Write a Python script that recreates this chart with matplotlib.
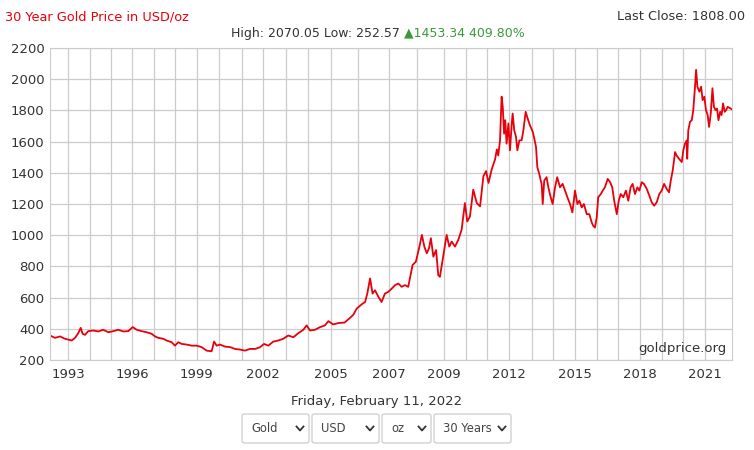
import numpy as np
import matplotlib
matplotlib.use("Agg")
import matplotlib.pyplot as plt
from matplotlib.patches import FancyBboxPatch
from matplotlib.lines import Line2D

# gold price readings (decimal year, USD/oz)
years = [1992.11, 1992.35, 1992.6, 1992.84, 1993.16, 1993.31, 1993.46, 1993.57, 1993.66, 1993.77,
         1993.92, 1994.16, 1994.4, 1994.63, 1994.87, 1995.11, 1995.34, 1995.58, 1995.81, 1996.02,
         1996.2, 1996.43, 1996.66, 1996.89, 1997.05, 1997.2, 1997.44, 1997.6, 1997.84, 1998.0,
         1998.15, 1998.31, 1998.54, 1998.77, 1999.0, 1999.22, 1999.44, 1999.66, 1999.77, 1999.88,
         2000.03, 2000.25, 2000.5, 2000.7, 2000.92, 2001.15, 2001.38, 2001.62, 2001.85, 2002.03,
         2002.22, 2002.44, 2002.66, 2002.88, 2003.1, 2003.34, 2003.57, 2003.8, 2003.95, 2004.1,
         2004.32, 2004.54, 2004.75, 2004.9, 2005.09, 2005.28, 2005.5, 2005.7, 2005.82, 2005.94,
         2006.11, 2006.22, 2006.29, 2006.38, 2006.46, 2006.54, 2006.65, 2006.75, 2006.86, 2006.97,
         2007.09, 2007.21, 2007.33, 2007.45, 2007.57, 2007.69, 2007.85, 2007.97, 2008.1, 2008.19,
         2008.28, 2008.37, 2008.45, 2008.52, 2008.61, 2008.71, 2008.79, 2008.85, 2008.97, 2009.12,
         2009.24, 2009.35, 2009.5, 2009.65, 2009.8, 2009.95, 2010.06, 2010.19, 2010.35, 2010.52,
         2010.68, 2010.84, 2010.97, 2011.08, 2011.22, 2011.37, 2011.45, 2011.51, 2011.59, 2011.66,
         2011.71, 2011.77, 2011.82, 2011.88, 2011.96, 2012.03, 2012.11, 2012.15, 2012.22, 2012.3,
         2012.36, 2012.45, 2012.55, 2012.63, 2012.73, 2012.82, 2012.92, 2013.05, 2013.12, 2013.2,
         2013.26, 2013.35, 2013.42, 2013.46, 2013.51, 2013.58, 2013.69, 2013.77, 2013.88, 2013.97,
         2014.08, 2014.18, 2014.31, 2014.43, 2014.54, 2014.65, 2014.77, 2014.88, 2015.0, 2015.11,
         2015.2, 2015.31, 2015.41, 2015.54, 2015.66, 2015.77, 2015.84, 2015.92, 2016.0, 2016.07,
         2016.19, 2016.28, 2016.38, 2016.51, 2016.62, 2016.72, 2016.81, 2016.93, 2017.02, 2017.11,
         2017.23, 2017.35, 2017.46, 2017.57, 2017.66, 2017.77, 2017.88, 2017.97, 2018.08, 2018.18,
         2018.31, 2018.43, 2018.54, 2018.65, 2018.77, 2018.89, 2019.0, 2019.11, 2019.23, 2019.34,
         2019.42, 2019.51, 2019.62, 2019.69, 2019.8, 2019.93, 2020.0, 2020.08, 2020.16, 2020.18,
         2020.23, 2020.31, 2020.39, 2020.46, 2020.54, 2020.59, 2020.65, 2020.74, 2020.82, 2020.89,
         2020.97, 2021.04, 2021.11, 2021.17, 2021.24, 2021.31, 2021.37, 2021.44, 2021.5, 2021.56,
         2021.63, 2021.69, 2021.75, 2021.82, 2021.88, 2021.94, 2022.11]
prices = [357, 342, 351, 336, 325, 342, 372, 406, 368, 361,
          385, 389, 383, 394, 378, 385, 394, 383, 385, 411,
          394, 385, 378, 368, 351, 342, 336, 325, 314, 292,
          314, 303, 299, 292, 292, 282, 260, 256, 318, 292,
          299, 286, 282, 271, 267, 260, 271, 271, 282, 303,
          292, 318, 325, 336, 357, 346, 372, 394, 422, 389,
          394, 411, 422, 449, 428, 437, 440, 470, 490, 529,
          557, 572, 626, 723, 626, 647, 604, 572, 626, 637,
          658, 680, 690, 669, 680, 669, 809, 830, 927, 1002,
          927, 884, 916, 981, 862, 905, 744, 733, 862, 1002,
          927, 959, 927, 970, 1034, 1206, 1088, 1120, 1292, 1206,
          1185, 1378, 1411, 1335, 1421, 1486, 1550, 1511, 1608, 1888,
          1823, 1651, 1737, 1587, 1716, 1544, 1716, 1780, 1673, 1630,
          1544, 1608, 1608, 1673, 1791, 1748, 1705, 1662, 1619, 1565,
          1436, 1393, 1350, 1329, 1200, 1350, 1372, 1307, 1243, 1200,
          1307, 1372, 1307, 1329, 1286, 1243, 1200, 1146, 1286, 1200,
          1221, 1178, 1200, 1135, 1135, 1082, 1060, 1049, 1114, 1243,
          1264, 1286, 1307, 1361, 1340, 1307, 1221, 1135, 1221, 1264,
          1243, 1286, 1221, 1307, 1329, 1264, 1307, 1286, 1340, 1329,
          1297, 1254, 1211, 1189, 1211, 1264, 1286, 1329, 1297, 1275,
          1350, 1415, 1533, 1511, 1490, 1469, 1544, 1587, 1608, 1490,
          1673, 1727, 1737, 1802, 1952, 2060, 1952, 1920, 1952, 1866,
          1888, 1802, 1770, 1694, 1780, 1942, 1823, 1802, 1812, 1737,
          1791, 1770, 1845, 1791, 1802, 1823, 1808]

# the site's x axis follows the number of quotes, so years are not equally wide
scale_years = [1992.11] + list(range(1993, 2022)) + [2022.11]
scale_width = [0, 18.3, 40, 61, 82.3, 104, 125, 146.7, 169.3, 191.7, 213.3, 236, 257.7, 280.7,
               308.3, 339.3, 366.7, 394, 416, 436.7, 459.3, 481.7, 503.3, 525, 546.7, 568.3,
               590, 611.7, 633.3, 655, 681.7]
label_years = [1993, 1996, 1999, 2002, 2005, 2007, 2009, 2012, 2015, 2018, 2021]
y_ticks = list(range(200, 2201, 200))


def fwd(x):
    return np.interp(x, scale_years, scale_width)


def inv(x):
    return np.interp(x, scale_width, scale_years)


W, H = 754, 450
fig = plt.figure(figsize=(W / 100, H / 100), dpi=100)
ax = fig.add_axes([50 / W, 90 / H, 681.7 / W, 312 / H])
ax.set_xscale("function", functions=(fwd, inv))

ax.plot(years, prices, color="#e8000b", lw=1.3)

ax.set_xlim(1992.11, 2022.11)
ax.set_ylim(200, 2200)
ax.set_yticks(y_ticks)
ax.set_xticks(label_years)
ax.set_xticks(list(range(1993, 2022)), minor=True)
ax.grid(True, which="both", color="#cccccc", lw=0.9)
ax.set_axisbelow(True)
ax.tick_params(which="both", length=0, colors="#333333", labelsize=9.5)
ax.tick_params(axis="x", pad=6)
ax.tick_params(axis="y", pad=4)
for s in ax.spines.values():
    s.set_color("#cccccc")

ax.text(0.992, 0.015, "goldprice.org", transform=ax.transAxes, ha="right", va="bottom",
        fontsize=9.5, color="#333333")

# header
fig.text(5 / W, 1 - 17 / H, "30 Year Gold Price in USD/oz", color="#e8000b", fontsize=9.3,
         va="center", ha="left")
fig.text(745 / W, 1 - 17 / H, "Last Close: 1808.00", color="#333333", fontsize=9.3,
         va="center", ha="right")
fig.text(404 / W, 1 - 33 / H, "High: 2070.05 Low: 252.57 ", color="#333333", fontsize=9,
         va="center", ha="right")
fig.text(404 / W, 1 - 33 / H, "\u25b21453.34 409.80%", color="#3a9a3a", fontsize=9,
         va="center", ha="left")

fig.text(377 / W, 1 - 402 / H, "Friday, February 11, 2022", color="#333333", fontsize=9.5,
         va="center", ha="center")

# dropdown boxes
boxes = [("Gold", 242, 309), ("USD", 312, 379), ("oz", 382, 431), ("30 Years", 434, 511)]
for label, x0, x1 in boxes:
    y0, y1 = 414, 443
    fig.patches.append(FancyBboxPatch((x0 / W, 1 - y1 / H), (x1 - x0) / W, (y1 - y0) / H,
                                      boxstyle="round,pad=0,rounding_size=0.004",
                                      transform=fig.transFigure, fc="white", ec="#cccccc",
                                      lw=0.9))
    fig.text((x0 + 9) / W, 1 - 428.5 / H, label, color="#444444", fontsize=8.3,
             va="center", ha="left")
    cx = x1 - 9
    fig.add_artist(Line2D([(cx - 3.5) / W, cx / W, (cx + 3.5) / W],
                          [1 - 426.5 / H, 1 - 430.5 / H, 1 - 426.5 / H],
                          transform=fig.transFigure, color="#333333", lw=1.3))

fig.savefig("out.png", dpi=100)
